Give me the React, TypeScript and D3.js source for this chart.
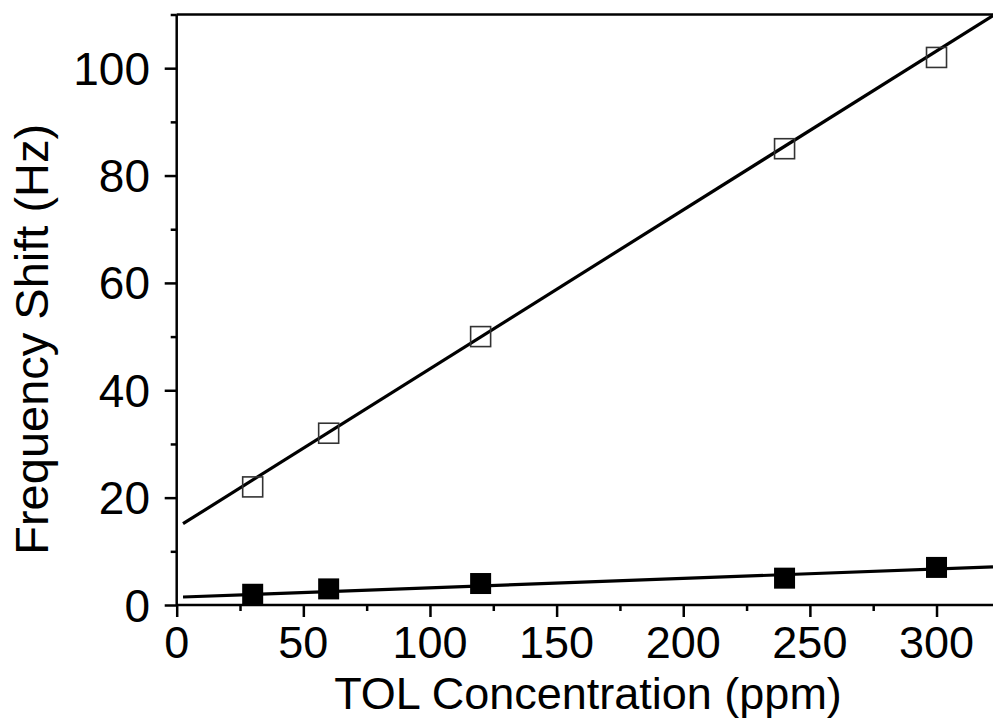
import React, { useEffect, useRef } from "react";
import * as d3 from "d3";

// measured points
const concentration = [30, 60, 120, 240, 300];
const shiftOpen = [22, 32, 50, 85, 102];
const shiftFilled = [2, 3, 4, 5, 7];

// linear fits (intercept, slope)
const fitOpen = [14.4, 0.296];
const fitFilled = [1.45, 0.0175];

const xTicks = [0, 50, 100, 150, 200, 250, 300];
const yTicks = [0, 20, 40, 60, 80, 100];

const App = () => {
  const ref = useRef<SVGSVGElement>(null);

  useEffect(() => {
    const svg = d3.select(ref.current);
    svg.selectAll("*").remove();

    const left = 176.7;
    const right = 993;
    const top = 14.5;
    const bottom = 605;
    const font = "Arial, 'Liberation Sans', sans-serif";

    const x = d3.scaleLinear().domain([0, 322.3]).range([left, right]);
    const y = d3.scaleLinear().domain([0, 110]).range([bottom, top]);

    const g = svg.append("g");

    // fit lines
    const drawFit = (fit: number[]) => {
      const x0 = 2.5;
      const x1 = 322.3;
      g.append("line")
        .attr("x1", x(x0))
        .attr("y1", y(fit[0] + fit[1] * x0))
        .attr("x2", x(x1))
        .attr("y2", y(fit[0] + fit[1] * x1))
        .attr("stroke", "black")
        .attr("stroke-width", 3.2);
    };
    drawFit(fitOpen);
    drawFit(fitFilled);

    // open squares
    const s = 20;
    g.selectAll(".open")
      .data(concentration)
      .enter()
      .append("rect")
      .attr("x", (d) => x(d) - s / 2)
      .attr("y", (d, i) => y(shiftOpen[i]) - s / 2)
      .attr("width", s)
      .attr("height", s)
      .attr("fill", "none")
      .attr("stroke", "#333")
      .attr("stroke-width", 1.6);

    // filled squares
    const f = 21;
    g.selectAll(".filled")
      .data(concentration)
      .enter()
      .append("rect")
      .attr("x", (d) => x(d) - f / 2)
      .attr("y", (d, i) => y(shiftFilled[i]) - f / 2)
      .attr("width", f)
      .attr("height", f)
      .attr("fill", "black");

    // axes
    const xAxis = d3
      .axisBottom(x)
      .tickValues(d3.range(0, 325, 25))
      .tickSize(6)
      .tickFormat(() => "");
    const xg = svg.append("g").attr("transform", `translate(0,${bottom})`).call(xAxis);
    xg.selectAll(".tick line")
      .attr("y2", (d: any) => (d % 50 === 0 ? 12 : 6))
      .attr("stroke-width", 2.5);
    xg.select(".domain").attr("stroke-width", 2.5).attr("d", `M${left},0H${right}`);

    const yAxis = d3
      .axisLeft(y)
      .tickValues(d3.range(0, 111, 10))
      .tickSize(6)
      .tickFormat(() => "");
    const yg = svg.append("g").attr("transform", `translate(${left},0)`).call(yAxis);
    yg.selectAll(".tick line")
      .attr("x2", (d: any) => (d % 20 === 0 ? -12 : -6))
      .attr("stroke-width", 2.5);
    yg.select(".domain").attr("stroke-width", 2.5).attr("d", `M0,${bottom}V${top}`);

    // top frame
    svg.append("line")
      .attr("x1", left)
      .attr("x2", right)
      .attr("y1", top)
      .attr("y2", top)
      .attr("stroke", "black")
      .attr("stroke-width", 2.5);

    // tick labels
    svg.append("g")
      .selectAll("text")
      .data(xTicks)
      .enter()
      .append("text")
      .attr("x", (d) => x(d))
      .attr("y", 658)
      .attr("text-anchor", "middle")
      .attr("font-family", font)
      .attr("font-size", 45)
      .text((d) => d);

    svg.append("g")
      .selectAll("text")
      .data(yTicks)
      .enter()
      .append("text")
      .attr("x", 150)
      .attr("y", (d) => y(d) + 16.5)
      .attr("text-anchor", "end")
      .attr("font-family", font)
      .attr("font-size", 46)
      .text((d) => d);

    // axis titles
    svg.append("text")
      .attr("x", (318 + 858) / 2)
      .attr("y", 709)
      .attr("text-anchor", "middle")
      .attr("font-family", font)
      .attr("font-size", 45)
      .text("TOL Concentration (ppm)");

    svg.append("text")
      .attr("transform", `translate(48,${y(49.5)}) rotate(-90)`)
      .attr("text-anchor", "middle")
      .attr("font-family", font)
      .attr("font-size", 47)
      .text("Frequency Shift (Hz)");
  }, []);

  return (
    <svg
      ref={ref}
      width={993}
      height={719}
      style={{ position: "absolute", left: 0, top: 0, background: "white" }}
    />
  );
};

export default App;
